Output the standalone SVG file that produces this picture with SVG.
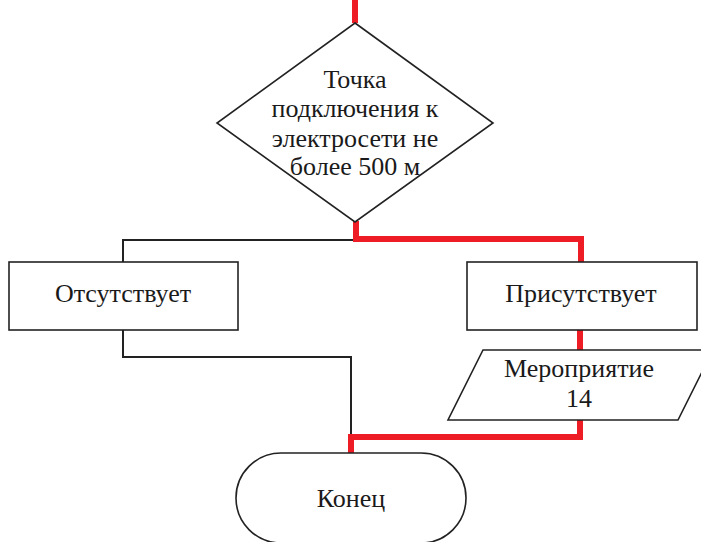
<svg xmlns="http://www.w3.org/2000/svg" width="701" height="542" viewBox="0 0 701 542">
  <style>
    .shape { fill: #ffffff; stroke: #222222; stroke-width: 1.6; }
    .label { font-family: "Liberation Serif", "Times New Roman", serif; font-size: 26px; fill: #1a1a1a; text-anchor: middle; }
    .wire { fill: none; stroke: #222222; stroke-width: 2; }
    .path-red { fill: none; stroke: #ee1c25; stroke-width: 6; stroke-linejoin: miter; }
  </style>
  <rect width="701" height="542" fill="#ffffff"/>

  <g id="connectors">
    <!-- "absent" branch, black -->
    <polyline class="wire" points="355,240 123,240 123,262"/>
    <polyline class="wire" points="123,330 123,357 351,357 351,440"/>
    <!-- highlighted route, red -->
    <line class="path-red" x1="355" y1="0" x2="355" y2="23"/>
    <polyline class="path-red" points="356,221 356,239 581,239 581,262"/>
    <line class="path-red" x1="580" y1="330" x2="580" y2="350"/>
    <polyline class="path-red" points="580,420 580,437 351,437 351,454"/>
  </g>

  <g id="decision">
    <polygon class="shape" points="355,23 493,123 355,222 217,123"/>
    <text class="label" x="355" y="88">Точка</text>
    <text class="label" x="355" y="117">подключения к</text>
    <text class="label" x="355" y="147">электросети не</text>
    <text class="label" x="355" y="175">более 500 м</text>
  </g>

  <g id="absent">
    <rect class="shape" x="9" y="262" width="229" height="68"/>
    <text class="label" x="123" y="302">Отсутствует</text>
  </g>

  <g id="present">
    <rect class="shape" x="467" y="262" width="230" height="68"/>
    <text class="label" x="581" y="302">Присутствует</text>
  </g>

  <g id="measure">
    <polygon class="shape" points="483,350 713,350 678,420 448,420"/>
    <text class="label" x="579" y="377">Мероприятие</text>
    <text class="label" x="579" y="407">14</text>
  </g>

  <g id="end">
    <rect class="shape" x="236" y="453" width="230" height="90" rx="45" ry="45"/>
    <text class="label" x="351" y="507">Конец</text>
  </g>
</svg>
